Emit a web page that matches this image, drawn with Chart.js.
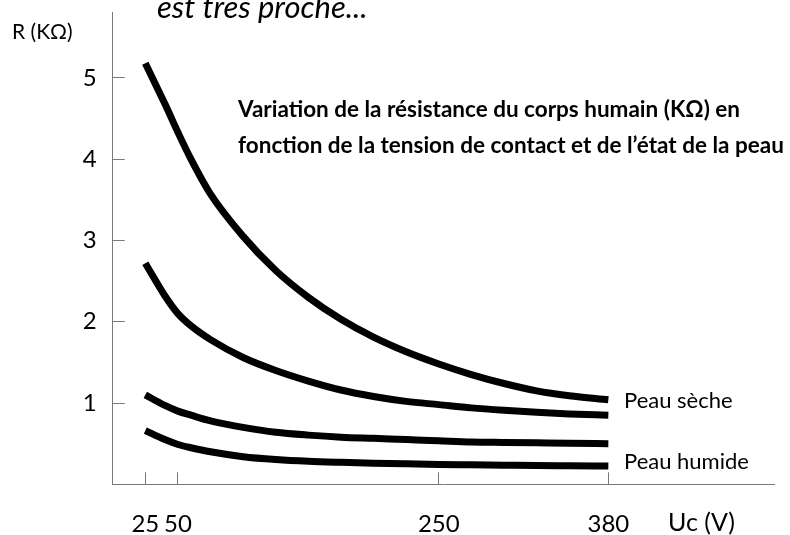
<!DOCTYPE html>
<html lang="fr">
<head>
<meta charset="utf-8">
<title>Résistance du corps humain</title>
<script src="https://cdn.jsdelivr.net/npm/chart.js@4"></script>
<style>
    html, body { margin: 0; padding: 0; background: #fff; }
    #graphique { display: block; }
</style>
</head>
<body>
<canvas id="graphique" width="790" height="535"></canvas>
<script>
// tension de contact Uc (V)
const tensions = [25, 40, 50, 60, 75, 100, 125, 150, 175, 200, 225, 250, 275, 300, 325, 350, 380];

// résistance R (KΩ), de la peau la plus sèche à la plus humide
const courbe1 = [5.18, 4.68, 4.33, 4.00, 3.57, 3.05, 2.63, 2.30, 2.03, 1.81, 1.63, 1.48, 1.35, 1.24, 1.15, 1.09, 1.04];
const courbe2 = [2.72, 2.32, 2.10, 1.95, 1.78, 1.56, 1.40, 1.27, 1.16, 1.08, 1.02, 0.98, 0.94, 0.91, 0.885, 0.865, 0.85];
const courbe3 = [1.10, 0.97, 0.90, 0.85, 0.78, 0.70, 0.64, 0.605, 0.58, 0.565, 0.55, 0.535, 0.52, 0.515, 0.51, 0.505, 0.50];
const courbe4 = [0.66, 0.55, 0.49, 0.45, 0.40, 0.34, 0.305, 0.283, 0.27, 0.26, 0.252, 0.245, 0.24, 0.235, 0.23, 0.228, 0.225];

const ticksX = [25, 50, 250, 380];
const ticksY = [1, 2, 3, 4, 5];

const gris = "#7a7a7a";
const police = "Lato";

function serie(valeurs) {
    return {
        data: tensions.map((t, i) => ({ x: t, y: valeurs[i] })),
        borderColor: "#000",
        borderWidth: 7,
        borderCapStyle: "butt",
        pointRadius: 0,
        fill: false,
        cubicInterpolationMode: "monotone"
    };
}

// textes libres autour du graphique
const textes = {
    id: "textes",
    afterDraw(chart) {
        const ctx = chart.ctx;
        ctx.save();
        ctx.fillStyle = "#000";
        ctx.textAlign = "left";

        ctx.textBaseline = "alphabetic";
        ctx.font = `italic 31px ${police}`;
        ctx.fillText("est très proche...", 157, 18);

        ctx.textBaseline = "middle";
        ctx.font = `21px ${police}`;
        ctx.fillText("R (KΩ)", 12, 32);

        ctx.font = `bold 22.5px ${police}`;
        ctx.fillText("Variation de la résistance du corps humain (KΩ) en", 238, 110, 508);
        ctx.fillText("fonction de la tension de contact et de l’état de la peau", 238, 146, 550);

        ctx.font = `22px ${police}`;
        ctx.fillText("Peau sèche", 624, 401);
        ctx.fillText("Peau humide", 624, 462);

        ctx.font = `25px ${police}`;
        ctx.fillText("Uc (V)", 668, 523);
        ctx.restore();
    }
};

// pas de marge ajoutée par Chart.js pour les libellés des extrémités
function sansMarge(s) {
    s.paddingTop = 0;
    s.paddingBottom = 0;
    s.paddingLeft = 0;
    s.paddingRight = 0;
}

function dessiner() {
    const ctx = document.getElementById("graphique").getContext("2d");

    new Chart(ctx, {
        type: "line",
        data: {
            datasets: [serie(courbe1), serie(courbe2), serie(courbe3), serie(courbe4)]
        },
        options: {
            responsive: false,
            animation: false,
            layout: { padding: { top: 12, right: 16, left: 0, bottom: 0 } },
            plugins: {
                legend: { display: false },
                tooltip: { enabled: false }
            },
            scales: {
                x: {
                    type: "linear",
                    min: 0,
                    max: 507,
                    afterBuildTicks: s => { s.ticks = ticksX.map(v => ({ value: v })); },
                    afterFit: s => { s.height = 50.7; sansMarge(s); },
                    border: { color: gris, width: 1 },
                    grid: { drawOnChartArea: false, tickLength: -12, color: gris },
                    ticks: {
                        font: { family: police, size: 24 },
                        color: "#000",
                        padding: 38,
                        maxRotation: 0,
                        autoSkip: false
                    }
                },
                y: {
                    min: 0,
                    max: 5.81,
                    afterBuildTicks: s => { s.ticks = ticksY.map(v => ({ value: v })); },
                    afterFit: s => { s.width = 112.7; sansMarge(s); },
                    border: { color: gris, width: 1 },
                    grid: { drawOnChartArea: false, tickLength: -12, color: gris },
                    ticks: {
                        font: { family: police, size: 24 },
                        color: "#000",
                        padding: 28
                    }
                }
            }
        },
        plugins: [textes]
    });
}

Promise.all([
    document.fonts.load(`24px ${police}`),
    document.fonts.load(`bold 22.5px ${police}`),
    document.fonts.load(`italic 31px ${police}`)
]).then(dessiner, dessiner);
</script>
</body>
</html>
